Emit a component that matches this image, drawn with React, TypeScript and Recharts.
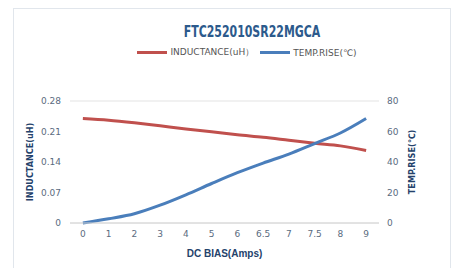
import React from 'react';
import { ComposedChart, Line, XAxis, YAxis, CartesianGrid, Legend } from 'recharts';

// DC bias categories (Amps)
const dcBias = ['0', '1', '2', '3', '4', '5', '6', '6.5', '7', '7.5', '8', '9'];
// Inductance (uH)
const inductance = [0.24, 0.236, 0.23, 0.223, 0.216, 0.2095, 0.2027, 0.197, 0.19, 0.183, 0.177, 0.1666];
// Temperature rise (°C)
const tempRise = [0, 2.8, 6.1, 11.7, 18.5, 25.9, 33, 39.3, 45.2, 52.1, 59, 68.5];

const leftTicks = [0, 0.07, 0.14, 0.21, 0.28];
const rightTicks = [0, 20, 40, 60, 80];

const RED = '#c0504d';
const BLUE = '#4a7ebb';
const TITLE_BLUE = '#2c5a8c';
const AXIS_BLUE = '#24426b';
const TICK = '#5a6b80';

const data = dcBias.map((bias, i) => ({
  bias,
  inductance: inductance[i],
  temp: tempRise[i],
}));

const titleFont = '"DejaVu Sans Condensed", "Liberation Sans Narrow", sans-serif';
const tickFont = { fill: TICK, fontSize: 9, fontFamily: '"DejaVu Sans", sans-serif' };

const LeftTitle = (props: any) => {
  const { x, y, height } = props.viewBox;
  const cx = x + 10;
  const cy = y + height / 2;
  return (
    <text x={cx} y={cy} transform={`rotate(-90 ${cx} ${cy})`} textAnchor="middle"
      dominantBaseline="central" fontFamily={titleFont} fontWeight="bold" fontSize={9} fill={AXIS_BLUE}>
      INDUCTANCE(uH)
    </text>
  );
};

const RightTitle = (props: any) => {
  const { x, y, height } = props.viewBox;
  const cx = x + 33;
  const cy = y + height / 2;
  return (
    <text x={cx} y={cy} transform={`rotate(-90 ${cx} ${cy})`} textAnchor="middle"
      dominantBaseline="central" fontFamily={titleFont} fontWeight="bold" fontSize={9} fill={AXIS_BLUE}>
      TEMP.RISE(℃)
    </text>
  );
};

const BottomTitle = (props: any) => {
  const { x, y, width } = props.viewBox;
  return (
    <text x={x + width / 2} y={y + 30} textAnchor="middle" dominantBaseline="central"
      fontFamily='"Liberation Sans", Arial, sans-serif' fontWeight="bold" fontSize={10} fill={AXIS_BLUE}>
      DC BIAS(Amps)
    </text>
  );
};

const legendItems = [
  { label: 'INDUCTANCE(uH）', color: RED },
  { label: 'TEMP.RISE(℃)', color: BLUE },
];

const LegendContent = () => (
  <div style={{ display: 'flex', justifyContent: 'center', paddingLeft: 44, fontFamily: '"DejaVu Sans", sans-serif', fontSize: 9, color: '#555' }}>
    {legendItems.map((item) => (
      <div key={item.label} style={{ display: 'flex', alignItems: 'center', marginRight: 6 }}>
        <span style={{ display: 'inline-block', width: 30, height: 3, background: item.color, marginRight: 3 }} />
        <span>{item.label}</span>
      </div>
    ))}
  </div>
);

export default function App() {
  return (
    <div style={{ position: 'absolute', left: 0, top: 0, width: 456, height: 268, background: '#fff', overflow: 'hidden' }}>
      <div style={{ position: 'absolute', left: 13, top: 8, width: 438, height: 300, border: '1px solid #e1e6ec', boxSizing: 'border-box' }} />
      <div style={{ position: 'absolute', left: 252, top: 22, transform: 'translateX(-50%) scaleX(0.76)', whiteSpace: 'nowrap', fontFamily: titleFont, fontWeight: 'bold', fontSize: 16, color: TITLE_BLUE }}>
        FTC252010SR22MGCA
      </div>
      <div style={{ position: 'absolute', left: 0, top: 0 }}>
        <ComposedChart width={456} height={268} data={data} margin={{ top: 88, right: 27, left: 20, bottom: 9 }}>
          <CartesianGrid vertical={false} stroke="#e3e3e3" />
          <XAxis dataKey="bias" scale="band" height={36} tickLine={false} axisLine={{ stroke: '#d4d4d4' }}
            tick={tickFont} interval={0} label={<BottomTitle />} />
          <YAxis yAxisId="left" width={50} domain={[0, 0.28]} ticks={leftTicks} axisLine={false} tickLine={false}
            tickSize={6} tickMargin={3} tickFormatter={(v: number) => (v === 0 ? '0' : v.toFixed(2))}
            tick={tickFont} label={<LeftTitle />} />
          <YAxis yAxisId="right" orientation="right" width={50} domain={[0, 80]} ticks={rightTicks} axisLine={false}
            tickLine={false} tick={tickFont} label={<RightTitle />} />
          <Legend verticalAlign="top" content={<LegendContent />} wrapperStyle={{ top: 46, left: 0, width: 456 }} />
          <Line yAxisId="left" type="monotone" dataKey="inductance" stroke={RED} strokeWidth={3} dot={false} isAnimationActive={false} />
          <Line yAxisId="right" type="monotone" dataKey="temp" stroke={BLUE} strokeWidth={3} dot={false} isAnimationActive={false} />
        </ComposedChart>
      </div>
    </div>
  );
}
